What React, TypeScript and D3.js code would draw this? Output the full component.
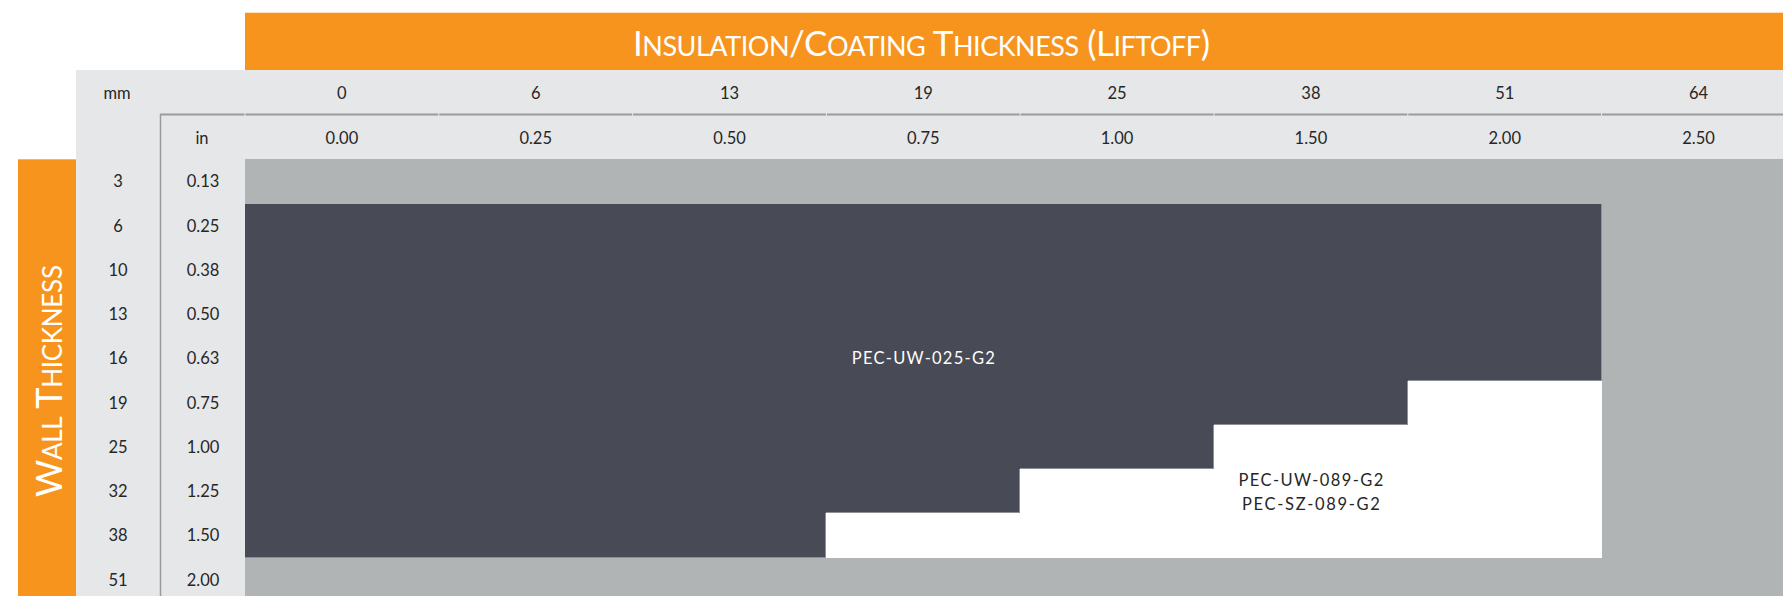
import React from "react";
import * as d3 from "d3";

// ---- data ----
const liftoffMm = ["0", "6", "13", "19", "25", "38", "51", "64"];
const liftoffIn = ["0.00", "0.25", "0.50", "0.75", "1.00", "1.50", "2.00", "2.50"];
const wallMm = ["3", "6", "10", "13", "16", "19", "25", "32", "38", "51"];
const wallIn = ["0.13", "0.25", "0.38", "0.50", "0.63", "0.75", "1.00", "1.25", "1.50", "2.00"];
// maximum liftoff (mm) covered by each probe, per wall thickness row (null = not covered)
const uw025MaxLiftoff: (string | null)[] = [null, "51", "51", "51", "51", "38", "25", "19", "13", null];
const uw089MaxLiftoff: (string | null)[] = [null, null, null, null, null, "51", "51", "51", "51", null];
const probeA = ["PEC-UW-025-G2"];
const probeB = ["PEC-UW-089-G2", "PEC-SZ-089-G2"];
const titleParts: [string, boolean][] = [
  ["I", true], ["NSULATION", false], ["/C", true], ["OATING", false], [" T", true],
  ["HICKNESS", false], [" (L", true], ["IFTOFF", false], [")", true],
];
const sideParts: [string, boolean][] = [["W", true], ["ALL", false], [" T", true], ["HICKNESS", false]];

const W = 1783;
const H = 596;
const ORANGE = "#F7941E";
const DARK = "#484B55";
const GRAY = "#B1B4B5";
const LIGHT = "#E6E7E9";
const LINE = "#9A9BA0";
const TEXT = "#262626";
const FONT = "Lato, 'Open Sans', sans-serif";

export default function App() {
  const x = d3.scaleBand<string>().domain(liftoffMm).range([245, 245 + 8 * 193.8]).padding(0);
  const y = d3.scaleBand<string>().domain(wallMm).range([159.3, 159.3 + 10 * 44.27]).padding(0);
  const bw = x.bandwidth();
  const bh = y.bandwidth();

  const status = (r: number, c: number): string => {
    if (r < 0 || r >= wallMm.length || c < 0 || c >= liftoffMm.length) return "none";
    const a = uw025MaxLiftoff[r];
    const b = uw089MaxLiftoff[r];
    if (a !== null && c <= liftoffMm.indexOf(a)) return "a";
    if (b !== null && c <= liftoffMm.indexOf(b)) return "b";
    return "none";
  };
  const fill: Record<string, string> = { a: DARK, b: "#FFFFFF", none: GRAY };

  // merge contiguous cells of the same status within each row
  const cells: JSX.Element[] = [];
  const edges: JSX.Element[] = [];
  wallMm.forEach((wm, r) => {
    const y0 = Math.round(y(wm)!);
    const y1 = Math.round(y(wm)! + bh);
    let c = 0;
    while (c < liftoffMm.length) {
      const s = status(r, c);
      let e = c;
      while (e + 1 < liftoffMm.length && status(r, e + 1) === s) e++;
      const x0 = Math.round(x(liftoffMm[c])!);
      const x1 = e === liftoffMm.length - 1 ? W : Math.round(x(liftoffMm[e])! + bw);
      cells.push(<rect key={`c${r}-${c}`} x={x0} y={y0} width={x1 - x0} height={y1 - y0} fill={fill[s]} shapeRendering="crispEdges" />);
      c = e + 1;
    }
  });
  wallMm.forEach((wm, r) => {
    liftoffMm.forEach((lm, c) => {
      if (status(r, c) !== "a") return;
      const x0 = Math.round(x(lm)!);
      const x1 = Math.round(x(lm)! + bw);
      const y0 = Math.round(y(wm)!);
      const y1 = Math.round(y(wm)! + bh);
      if (status(r + 1, c) !== "a")
        edges.push(<line key={`eb${r}-${c}`} x1={x0} x2={x1} y1={y1 - 0.5} y2={y1 - 0.5} stroke="#8E9096" strokeWidth={1} shapeRendering="crispEdges" />);
      if (status(r, c + 1) !== "a")
        edges.push(<line key={`er${r}-${c}`} x1={x1 - 0.5} x2={x1 - 0.5} y1={y0} y2={y1} stroke="#8E9096" strokeWidth={1} shapeRendering="crispEdges" />);
    });
  });

  const labelA = (() => {
    const cx = (x(liftoffMm[0])! + x(uw025MaxLiftoff[1]!)! + bw) / 2;
    const cy = y("16")! + bh / 2;
    return (
      <text x={cx} y={cy + 5.5} textAnchor="middle" fill="#FFFFFF" fontSize={16.5} fontFamily={FONT} textLength={143} lengthAdjust="spacing">
        {probeA[0]}
      </text>
    );
  })();

  const labelB = (() => {
    const cx = (x("25")! + x("51")! + bw) / 2;
    const cy = y("32")! + bh / 2;
    return probeB.map((t, i) => (
      <text key={t} x={cx} y={cy - 5 + i * 23.3} textAnchor="middle" fill={TEXT} fontSize={16.5} fontFamily={FONT} textLength={i === 0 ? 145 : 138} lengthAdjust="spacing">
        {t}
      </text>
    ));
  })();

  const fs = 16.5;

  return (
    <svg width={W} height={H} style={{ position: "absolute", left: 0, top: 0, display: "block" }}>
      <rect x={0} y={0} width={W} height={H} fill="#FFFFFF" />
      <rect x={76} y={70} width={W - 76} height={H - 70} fill={LIGHT} />
      <rect x={245} y={12.7} width={W - 245} height={70 - 12.7} fill={ORANGE} />
      <rect x={18} y={159.3} width={58} height={H - 159.3} fill={ORANGE} />

      <text x={921.5} y={56} textAnchor="middle" fill="#FFFFFF" fontFamily={FONT} textLength={577} lengthAdjust="spacing">
        {titleParts.map(([t, big], i) => (
          <tspan key={i} fontSize={big ? 35 : 27}>{t}</tspan>
        ))}
      </text>

      <text transform="translate(62,381) rotate(-90)" textAnchor="middle" fill="#FFFFFF" fontFamily={FONT} textLength={232} lengthAdjust="spacing">
        {sideParts.map(([t, big], i) => (
          <tspan key={i} fontSize={big ? 36 : 26}>{t}</tspan>
        ))}
      </text>

      {/* header labels */}
      <text x={117} y={99.3} textAnchor="middle" fill={TEXT} fontSize={fs} fontFamily={FONT}>mm</text>
      <text x={202} y={144} textAnchor="middle" fill={TEXT} fontSize={fs} fontFamily={FONT}>in</text>
      {liftoffMm.map((m, i) => (
        <g key={m}>
          <text x={x(m)! + bw / 2} y={99.3} textAnchor="middle" fill={TEXT} fontSize={fs} fontFamily={FONT}>{m}</text>
          <text x={x(m)! + bw / 2} y={144} textAnchor="middle" fill={TEXT} fontSize={fs} fontFamily={FONT}>{liftoffIn[i]}</text>
          <line x1={x(m)! + 0.5} x2={x(m)! + bw - 0.5} y1={114.5} y2={114.5} stroke={LINE} strokeWidth={2} />
        </g>
      ))}
      <line x1={160} x2={244.5} y1={114.5} y2={114.5} stroke={LINE} strokeWidth={2} />
      <line x1={160.5} x2={160.5} y1={114} y2={H} stroke={LINE} strokeWidth={1.5} />

      {/* row labels */}
      {wallMm.map((m, i) => (
        <g key={m}>
          <text x={118} y={y(m)! + bh / 2 + 5.8} textAnchor="middle" fill={TEXT} fontSize={fs} fontFamily={FONT}>{m}</text>
          <text x={203} y={y(m)! + bh / 2 + 5.8} textAnchor="middle" fill={TEXT} fontSize={fs} fontFamily={FONT}>{wallIn[i]}</text>
        </g>
      ))}

      {cells}
      {edges}
      {labelA}
      {labelB}
    </svg>
  );
}
